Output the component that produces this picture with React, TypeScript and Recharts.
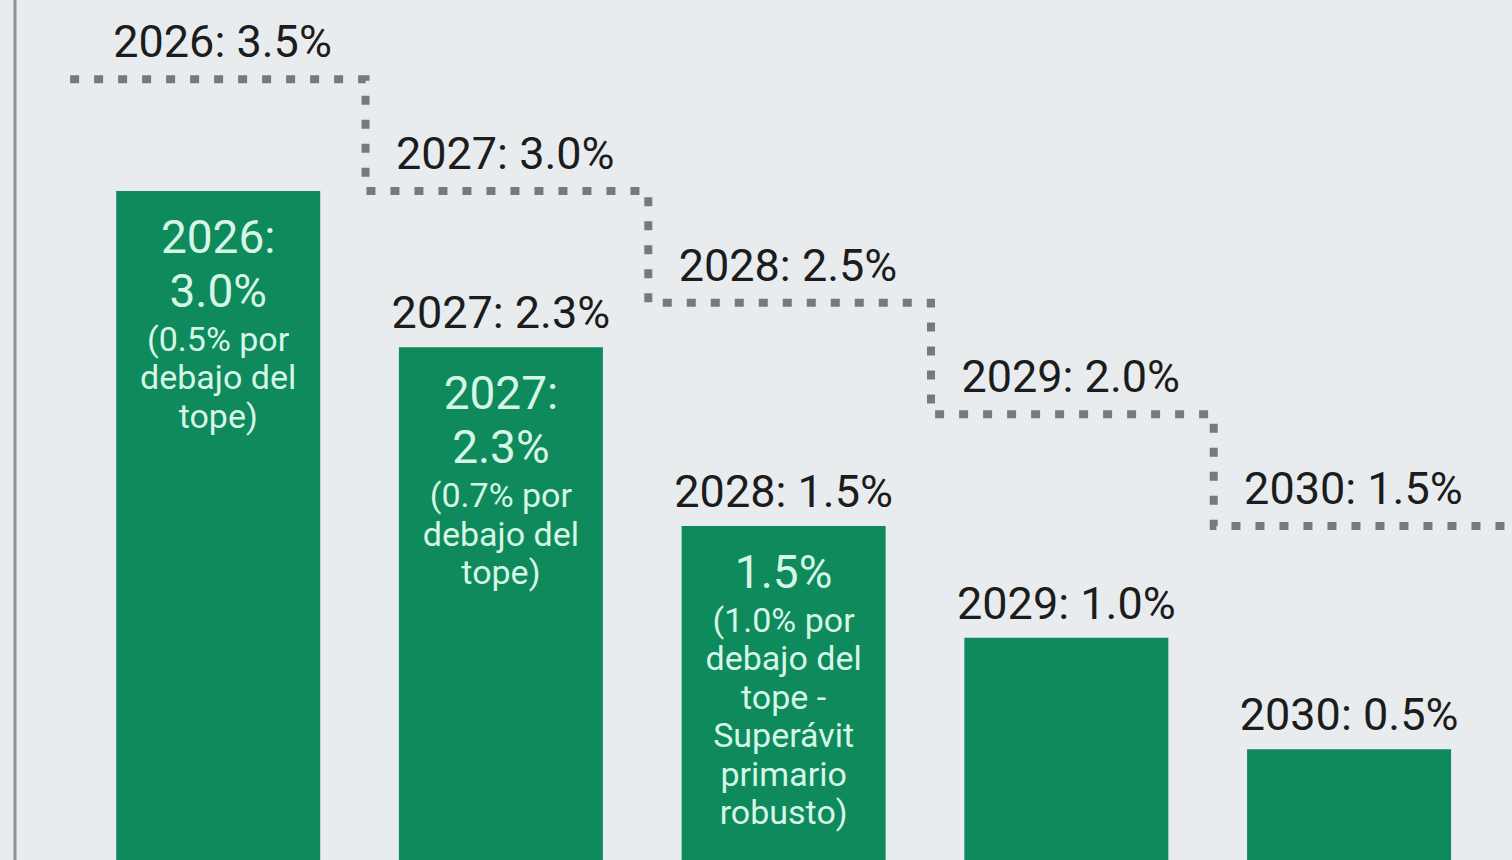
import { ComposedChart, Bar, Line, XAxis, YAxis, LabelList } from "recharts";

const years = ["2026", "2027", "2028", "2029", "2030"];
const budgetResult = [3.0, 2.3, 1.5, 1.0, 0.5];
const deficitCap = [3.5, 3.0, 2.5, 2.0, 1.5];
const barTopLabels = ["", "2027: 2.3%", "2028: 1.5%", "2029: 1.0%", "2030: 0.5%"];
const barHeadLines = [["2026:", "3.0%"], ["2027:", "2.3%"], ["1.5%"], [], []];
const barNoteLines = [
  ["(0.5% por", "debajo del", "tope)"],
  ["(0.7% por", "debajo del", "tope)"],
  ["(1.0% por", "debajo del", "tope -", "Superávit", "primario", "robusto)"],
  [],
  [],
];

const X_MIN = -0.72;
const X_MAX = 4.575;
const STEP_START = -0.525;
const STEP_SHIFT = 0.52;

const FONT = "Roboto, 'Noto Sans', sans-serif";
const GREEN = "#0e8a5c";
const MINT = "#d6f6e6";
const INK = "#1c1c1c";
const DOTS = "#737b80";

const barData = years.map((year, i) => ({
  x: i,
  year,
  value: budgetResult[i],
  cap: deficitCap[i],
}));

// cap line runs from the left edge, steps down between the bars, out to the right edge
const capStepData = [
  ...deficitCap.map((cap, i) => ({ x: i === 0 ? STEP_START : i - 1 + STEP_SHIFT, cap })),
  { x: X_MAX, cap: deficitCap[deficitCap.length - 1] },
];

function BarText(props: any) {
  const { x, y, width, value } = props;
  const i = Number(value);
  const cx = x + width / 2;
  const heads = barHeadLines[i] || [];
  const notes = barNoteLines[i] || [];
  const out: any[] = [];
  if (barTopLabels[i]) {
    out.push(
      <text key="top" x={cx} y={y - 19} textAnchor="middle" fontFamily={FONT} fontSize={45} fill={INK}>
        {barTopLabels[i]}
      </text>
    );
  }
  let by = y + 62;
  heads.forEach((t, k) => {
    out.push(
      <text key={"h" + k} x={cx} y={by} textAnchor="middle" fontFamily={FONT} fontSize={46} fill={MINT}>
        {t}
      </text>
    );
    by += 54;
  });
  by = by - 54 + 44;
  notes.forEach((t, k) => {
    out.push(
      <text key={"n" + k} x={cx} y={by} textAnchor="middle" fontFamily={FONT} fontSize={34} fill={MINT}>
        {t}
      </text>
    );
    by += 38.5;
  });
  return <g>{out}</g>;
}

function CapText(props: any) {
  const { x, y, value } = props;
  const i = Number(value);
  return (
    <text x={x + 4} y={y - 22} textAnchor="middle" fontFamily={FONT} fontSize={45} fill={INK}>
      {`${years[i]}: ${deficitCap[i].toFixed(1)}%`}
    </text>
  );
}

export default function App() {
  return (
    <div
      style={{
        position: "fixed",
        left: 0,
        top: 0,
        width: 1512,
        height: 860,
        overflow: "hidden",
        background: "#e9ecee",
      }}
    >
      <ComposedChart
        width={1512}
        height={861}
        data={barData}
        margin={{ top: 0, right: 0, bottom: 0, left: 14 }}
      >
        <XAxis
          xAxisId="bars"
          type="number"
          dataKey="x"
          domain={[X_MIN, X_MAX]}
          allowDataOverflow
          hide
        />
        <XAxis
          xAxisId="step"
          type="number"
          dataKey="x"
          domain={[X_MIN, X_MAX]}
          allowDataOverflow
          hide
        />
        <YAxis
          type="number"
          domain={[0, 3.855]}
          allowDataOverflow
          width={1}
          tick={false}
          tickLine={false}
          axisLine={{ stroke: "#8d9297", strokeWidth: 3 }}
        />
        <Bar xAxisId="bars" dataKey="value" fill={GREEN} barSize={204} isAnimationActive={false}>
          <LabelList dataKey="x" content={<BarText />} />
        </Bar>
        <Line
          xAxisId="step"
          data={capStepData}
          type="stepAfter"
          dataKey="cap"
          stroke={DOTS}
          strokeWidth={8}
          strokeDasharray="9 15"
          dot={false}
          activeDot={false}
          isAnimationActive={false}
        />
        <Line
          xAxisId="bars"
          dataKey="cap"
          stroke="none"
          dot={false}
          activeDot={false}
          isAnimationActive={false}
        >
          <LabelList dataKey="x" content={<CapText />} />
        </Line>
      </ComposedChart>
    </div>
  );
}
